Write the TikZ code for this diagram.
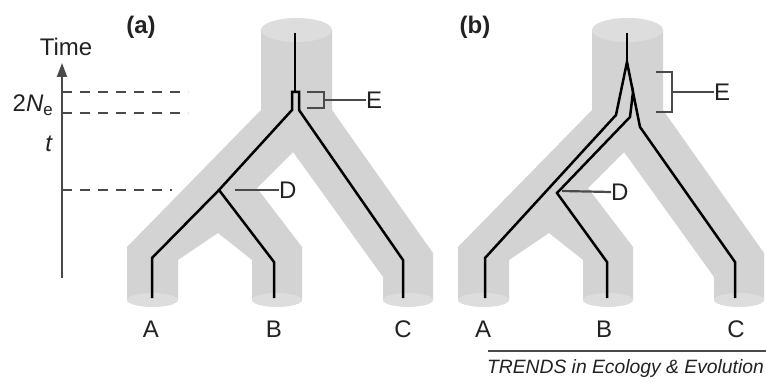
\documentclass[tikz,border=0pt]{standalone}
\usepackage{fontspec}
\setmainfont{Liberation Sans}
\usetikzlibrary{arrows.meta}
\definecolor{bodygray}{HTML}{D3D3D3}
\definecolor{capgray}{HTML}{DDDDDD}
\definecolor{dgray}{HTML}{4A4A4A}
\definecolor{txt}{HTML}{222222}
\tikzset{
  lin/.style={line width=2.5pt, black},
  brk/.style={line width=1.5pt, dgray},
  tick/.style={line width=2.2pt, dgray},
  dsh/.style={line width=1.8pt, dgray, dash pattern=on 10pt off 8pt},
  lab/.style={inner sep=0pt, text=txt, font=\fontsize{24}{26}\selectfont},
  treebg/.pic={
    \fill[bodygray] (261,30) -- (261,110) -- (127,247) -- (127,300) -- (178,300)
      -- (178,260) -- (218,233) -- (252,260) -- (252,300) -- (302,300) -- (302,247)
      -- (257,188) -- (293,152) -- (383,277) -- (383,300) -- (433,300) -- (433,253)
      -- (332,110) -- (332,30) -- cycle;
    \fill[capgray] (152.5,300) ellipse[x radius=25.5, y radius=7];
    \fill[capgray] (277,300) ellipse[x radius=25, y radius=7];
    \fill[capgray] (408,300) ellipse[x radius=25, y radius=7];
    \fill[capgray] (296.5,30) ellipse[x radius=35.5, y radius=12];
  }
}
\begin{document}
\begin{tikzpicture}[x=1pt, y=-1pt]
\useasboundingbox (0,0) rectangle (766,385);
% backgrounds
\pic at (0,0) {treebg};
\pic at (331,0) {treebg};

% time axis
\coordinate (axB) at (62,278);
\coordinate (axT) at (62,63);
\draw[line width=2pt, dgray, -{Triangle[length=14pt,width=10pt]}] (axB) -- (axT);
\node[lab] (time) at (66,47) {Time};
\coordinate (d1a) at (62,92);  \coordinate (d1b) at (188,92);
\coordinate (d2a) at (62,113); \coordinate (d2b) at (188,113);
\coordinate (d3a) at (62,190); \coordinate (d3b) at (172,190);
\draw[dsh] (d1a) -- (d1b);
\draw[dsh] (d2a) -- (d2b);
\draw[dsh] (d3a) -- (d3b);
\node[lab] (ne) at (33,105) {2\textit{N}\textsubscript{e}};
\node[lab] (tt) at (49,144) {\textit{t}};

% panel labels
\node[lab, font=\fontsize{24}{26}\selectfont\bfseries] (pa) at (141,27) {(a)};
\node[lab, font=\fontsize{24}{26}\selectfont\bfseries] (pb) at (475,27) {(b)};

% ---------- panel (a) lineages
\coordinate (aTop) at (295,33);
\coordinate (aE1) at (295,92);
\coordinate (aEL) at (292,92);
\coordinate (aER) at (299,92);
\coordinate (aEL2) at (292,110);
\coordinate (aER2) at (299,110);
\coordinate (aD) at (219,190);
\coordinate (aAk) at (152,258);
\coordinate (aAb) at (152,298);
\coordinate (aBk) at (274,262);
\coordinate (aBb) at (274,298);
\coordinate (aCk) at (403,260);
\coordinate (aCb) at (403,298);
\draw[lin] (aTop) -- (aE1);
\draw[lin] (aAb) -- (aAk) -- (aD) -- (aEL2) -- (aEL) -- (aER) -- (aER2) -- (aCk) -- (aCb);
\draw[lin] (aD) -- (aBk) -- (aBb);

% E bracket (a)
\coordinate (aB1) at (307,92);
\coordinate (aB2) at (324,92);
\coordinate (aB3) at (324,108);
\coordinate (aB4) at (307,108);
\coordinate (aBm) at (324,100);
\node[lab, anchor=west] (aElab) at (366,100) {E};
\draw[brk] (aB1) -- (aB2) -- (aB3) -- (aB4);
\draw[brk] (aBm) -- (aElab.west);
% D (a)
\coordinate (aDt) at (235,190);
\node[lab, anchor=west] (aDlab) at (279,190) {D};
\draw[tick] (aDt) -- (aDlab.west);

% ---------- panel (b) lineages
\coordinate (bTop) at (627,33);
\coordinate (bS1) at (627,62);
\coordinate (bL1) at (616,115);
\coordinate (bAk) at (485,258);
\coordinate (bAb) at (485,298);
\coordinate (bS2) at (633,92);
\coordinate (bM1) at (630,117);
\coordinate (bD) at (557,193);
\coordinate (bBk) at (607,262);
\coordinate (bBb) at (607,298);
\coordinate (bR1) at (640,127);
\coordinate (bCk) at (735,262);
\coordinate (bCb) at (735,298);
\draw[lin] (bTop) -- (bS1);
\draw[lin] (bAb) -- (bAk) -- (bL1) -- (bS1) -- (bS2);
\draw[lin] (bBb) -- (bBk) -- (bD) -- (bM1) -- (bS2) -- (bR1) -- (bCk) -- (bCb);

% E bracket (b)
\coordinate (bB1) at (656,72);
\coordinate (bB2) at (672,72);
\coordinate (bB3) at (672,112);
\coordinate (bB4) at (656,112);
\coordinate (bBm) at (672,92);
\node[lab, anchor=west] (bElab) at (714,92) {E};
\draw[brk] (bB1) -- (bB2) -- (bB3) -- (bB4);
\draw[brk] (bBm) -- (bElab.west);
% D (b)
\coordinate (bDt) at (562,191);
\node[lab, anchor=west] (bDlab) at (611,192) {D};
\draw[tick] (bDt) -- (bDlab.west);

% tip labels
\node[lab] (aA) at (151,329) {A};
\node[lab] (aB) at (274,329) {B};
\node[lab] (aC) at (403,329) {C};
\node[lab] (bA) at (483,329) {A};
\node[lab] (bB) at (604,329) {B};
\node[lab] (bC) at (736,329) {C};

% footer
\coordinate (fl) at (488,351);
\coordinate (fr) at (766,351);
\draw[line width=1.2pt, dgray] (fl) -- (fr);
\node[inner sep=0pt, anchor=east, font=\fontsize{19.3}{21}\selectfont\itshape, text=txt] (foot) at (764,369) {TRENDS in Ecology \& Evolution};
\end{tikzpicture}
\end{document}
